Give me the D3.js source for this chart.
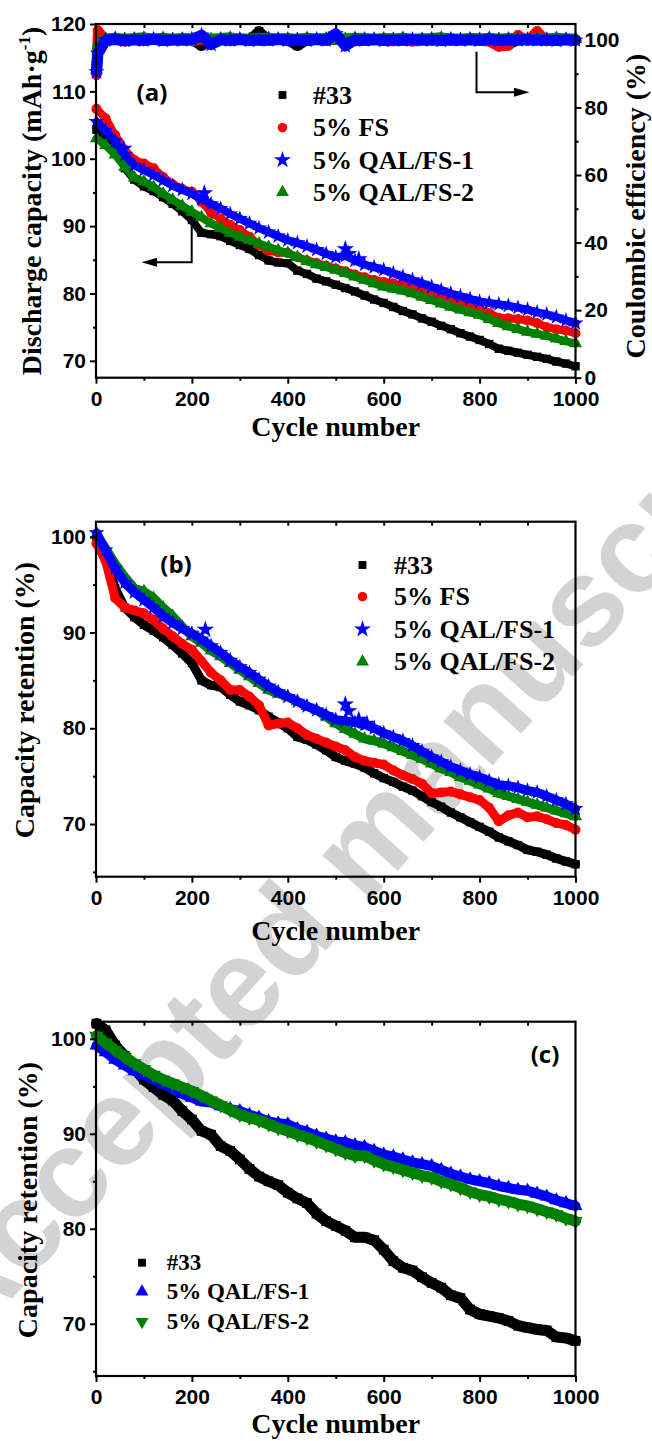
<!DOCTYPE html>
<html>
<head>
<meta charset="utf-8">
<script src="https://cdn.jsdelivr.net/npm/d3@7"></script>
<style>
  html, body { margin: 0; padding: 0; background: #fff; }
  svg { display: block; }
</style>
</head>
<body>
<svg id="fig" width="652" height="1441"></svg>
<script>
// ---------- data ----------
const cycles = [1,20,40,60,80,100,120,140,160,180,
  200,220,240,260,280,300,320,340,360,380,
  400,420,440,460,480,500,520,540,560,580,
  600,620,640,660,680,700,720,740,760,780,
  800,820,840,860,880,900,920,940,960,980,
  1000];
const ceCycles = [1,4,20,40,60,80,100,120,140,160,
  180,200,220,240,260,280,300,320,340,360,
  380,400,420,440,460,480,500,520,540,560,
  580,600,620,640,660,680,700,720,740,760,
  780,800,820,840,860,880,900,920,940,960,
  980,1000];

const seriesNames = ["#33", "5% FS", "5% QAL/FS-1", "5% QAL/FS-2"];

// (a) discharge capacity, mAh/g
const capA_33 = [104.3,103.0,101.8,98.6,96.9,95.9,95.2,94.3,93.3,92.2,
  90.9,89.0,88.8,88.5,87.8,87.2,86.6,85.7,84.9,84.6,
  84.5,83.4,82.9,82.2,81.8,81.3,80.8,80.3,79.7,79.1,
  78.6,78.0,77.4,76.9,76.3,75.8,75.2,74.7,74.1,73.6,
  73.1,72.5,71.8,71.5,71.2,70.9,70.6,70.3,69.9,69.6,
  69.2];
const capA_FS = [107.4,106.0,103.5,101.3,99.8,99.3,98.6,97.3,96.2,95.5,
  95.1,93.6,92.0,91.1,90.2,89.4,88.4,87.2,86.3,86.1,
  86.0,85.4,84.9,84.5,84.1,83.7,83.3,82.8,82.4,82.0,
  81.7,81.5,81.2,80.8,80.4,80.0,79.5,79.0,78.6,78.1,
  77.6,77.1,76.4,76.3,76.2,76.0,75.6,75.0,74.7,74.5,
  74.1];
const capA_Q1 = [105.5,104.2,102.6,100.6,99.0,98.3,97.6,96.8,96.0,95.4,
  94.8,94.0,93.3,92.6,91.8,91.1,90.4,89.7,89.1,88.5,
  87.9,87.5,87.0,86.5,85.9,85.4,85.6,84.9,84.3,83.9,
  83.5,83.0,82.5,82.0,81.5,81.0,80.5,80.0,79.6,79.2,
  78.8,78.6,78.4,78.2,77.9,77.6,77.2,76.9,76.5,76.0,
  75.6];
const capA_Q2 = [103.0,102.0,100.6,98.8,97.2,96.6,95.8,94.8,93.9,93.0,
  92.1,91.3,90.4,89.7,89.0,88.4,87.9,87.4,86.9,86.4,
  86.0,85.4,84.8,84.3,83.9,83.5,83.0,82.5,82.0,81.5,
  81.0,80.7,80.4,80.0,79.5,79.0,78.5,78.0,77.6,77.2,
  76.8,76.2,75.6,75.1,74.7,74.3,74.0,73.7,73.3,72.9,
  72.6];
const capA_Q1_spikeCycles = [58, 226, 520, 527, 548];
const capA_Q1_spikeValues = [101.5, 94.9, 86.6, 85.9, 85.1];

// (a) coulombic efficiency, %
const ceA_33 = [90.8,97.5,99.9,100.0,99.8,100.1,99.9,100.0,99.8,99.9,
  100.1,100.0,98.2,99.9,100.0,99.8,100.1,99.9,102.6,99.8,
  100.0,99.9,98.2,99.9,100.0,99.8,100.1,99.9,100.0,99.8,
  99.9,100.0,100.1,99.8,99.9,100.0,99.9,100.1,99.8,100.0,
  99.9,100.0,99.8,100.1,98.6,99.9,100.0,99.9,100.1,99.8,
  100.0,99.9];
const ceA_FS = [89.6,102.8,99.7,100.3,99.5,100.0,99.6,100.2,99.7,99.9,
  100.3,99.6,100.1,99.7,100.2,99.6,100.0,100.3,99.7,99.8,
  100.1,99.6,100.2,99.8,100.0,99.7,100.3,99.9,99.6,99.8,
  100.1,99.7,99.6,99.9,99.5,100.0,99.8,100.1,99.7,99.9,
  100.0,99.8,99.5,98.0,98.3,101.4,99.7,102.6,99.6,100.2,
  99.9,99.8];
const ceA_Q1 = [90.5,96.0,99.9,100.1,99.8,100.0,99.9,100.2,99.8,100.0,
  99.9,100.1,101.4,98.6,100.0,99.9,100.1,99.8,100.0,99.9,
  100.1,99.9,100.0,99.8,100.1,99.9,101.8,98.2,100.0,99.9,
  100.1,99.8,100.0,99.9,100.1,99.9,100.0,99.8,100.1,99.9,
  100.0,99.9,100.1,99.8,100.0,99.9,100.1,99.9,100.0,99.8,
  100.0,99.9];
const ceA_Q2 = [91.0,98.0,100.3,100.5,100.2,100.4,100.6,100.3,100.5,100.2,
  100.4,100.3,100.5,100.2,100.4,100.6,100.3,100.2,100.4,100.5,
  100.3,100.4,100.2,100.5,100.3,100.4,100.2,100.3,100.5,100.4,
  100.2,100.4,100.3,100.5,100.2,100.3,100.4,100.6,100.3,100.2,
  100.4,100.3,100.5,100.2,100.4,100.3,100.2,100.4,100.3,100.5,
  100.3,100.2];

// (b) capacity retention, %
const retB_33 = [100.0,97.8,94.6,92.6,91.6,90.8,90.2,89.5,88.7,87.8,
  86.8,85.0,84.5,84.3,83.5,82.8,82.4,81.9,81.2,80.6,
  80.0,79.1,78.8,78.3,77.7,77.0,76.6,76.3,75.9,75.3,
  74.8,74.4,73.9,73.5,72.9,72.3,71.8,71.2,70.7,70.2,
  69.7,69.2,68.6,68.2,67.8,67.3,67.1,66.8,66.4,66.1,
  65.8];
const retB_FS = [99.3,97.5,93.6,92.6,92.3,92.0,91.3,90.4,89.6,88.8,
  88.2,87.0,85.8,85.0,84.0,84.0,83.3,82.4,80.3,80.5,
  80.6,80.0,79.3,78.9,78.5,78.1,77.7,77.0,76.6,76.4,
  76.2,75.6,75.1,74.7,74.2,73.2,73.3,73.4,73.1,72.8,
  72.5,71.7,70.3,70.9,71.2,70.7,70.8,70.5,70.1,69.9,
  69.4];
const retB_Q1 = [100.4,98.6,96.7,95.2,94.2,93.4,92.6,91.7,91.0,90.4,
  89.9,89.3,88.6,87.9,87.1,86.4,85.8,85.1,84.4,83.8,
  83.3,82.8,82.3,81.9,81.4,80.9,80.8,80.6,80.4,80.0,
  79.5,79.1,78.7,78.2,77.6,77.0,76.5,76.0,75.6,75.2,
  74.9,74.5,74.1,74.0,73.8,73.5,73.3,72.9,72.5,72.1,
  71.6];
const retB_Q2 = [100.2,98.8,97.2,95.8,94.6,94.3,93.6,92.6,91.7,90.6,
  89.6,88.9,88.1,87.5,86.8,86.1,85.4,84.7,84.0,83.6,
  83.3,82.8,82.3,81.9,81.2,80.5,79.9,79.4,78.9,78.7,
  78.4,78.0,77.6,77.2,76.8,76.3,75.8,75.4,74.9,74.5,
  74.1,73.7,73.2,72.9,72.6,72.3,72.0,71.7,71.4,71.1,
  70.8];
const retB_Q1_spikeCycles = [228, 520, 527, 548, 565];
const retB_Q1_spikeValues = [90.3, 82.5, 81.8, 80.9, 80.5];

// (c) capacity retention, %
const retC_33 = [101.6,100.9,99.3,98.2,96.9,95.7,94.9,94.1,93.5,92.4,
  91.5,90.3,89.9,88.7,88.2,87.3,86.3,85.5,85.0,84.6,
  83.8,83.2,82.7,81.6,80.8,80.3,79.8,79.1,79.1,78.8,
  77.8,76.6,75.9,75.6,74.9,74.3,73.8,73.0,72.7,71.5,
  71.0,70.8,70.6,70.3,69.8,69.6,69.4,69.3,68.6,68.5,
  68.2];
const retC_Q1 = [99.3,98.6,97.8,97.2,96.6,96.2,95.7,95.2,94.8,94.2,
  93.8,93.4,93.3,92.9,92.6,92.4,92.0,91.7,91.3,91.1,
  91.0,90.5,90.2,89.8,89.5,89.2,89.1,88.8,88.6,88.2,
  87.8,87.6,87.3,87.0,86.8,86.6,86.2,85.8,85.5,85.2,
  85.0,84.8,84.5,84.3,84.1,84.0,83.7,83.4,83.0,82.7,
  82.4];
const retC_Q2 = [100.3,99.6,98.8,98.1,97.4,96.8,96.2,95.7,95.3,94.9,
  94.5,94.0,93.5,93.0,92.5,92.0,91.7,91.4,91.0,90.6,
  90.3,89.9,89.6,89.2,88.8,88.4,88.0,87.7,87.7,87.2,
  86.8,86.5,86.2,85.9,85.6,85.4,85.0,84.7,84.3,83.9,
  83.6,83.4,83.1,82.9,82.6,82.4,82.1,81.8,81.5,81.1,
  80.8];

// axis ticks
const xMajor = [0, 200, 400, 600, 800, 1000];
const xMinor = [100, 300, 500, 700, 900];
const xTop = [100, 200, 300, 400, 500, 600, 700, 800, 900];
const yMajorA = [70, 80, 90, 100, 110, 120];
const yMinorA = [75, 85, 95, 105, 115];
const yMajorCE = [0, 20, 40, 60, 80, 100];
const yMinorCE = [10, 30, 50, 70, 90];
const yMajorRet = [70, 80, 90, 100];
const yMinorRet = [65, 75, 85, 95];

// ---------- drawing ----------
const svg = d3.select("#fig");
const X0 = 96, X1 = 575.5;
const SANS = "'Liberation Sans', Arial, sans-serif";
const SERIF = "'Liberation Serif', 'Times New Roman', serif";
const LABEL = "'Open Sans', 'Noto Sans', sans-serif";
const C = { black: "#000000", red: "#ff0000", blue: "#0000ff", green: "#008000" };

svg.append("rect").attr("width", 652).attr("height", 1441).attr("fill", "#fff");

// watermark behind everything
svg.append("text")
  .attr("transform", "translate(-34,1350) rotate(-48)")
  .attr("font-family", SANS).attr("font-weight", "bold")
  .attr("font-size", 125).attr("fill", "#d3d3d3")
  .text("Accepted manuscript");

function drawSeries(g, x, y, cyc, vals, st) {
  const pts = cyc.map((c, i) => [c, vals[i]]);
  if (st.band) {
    g.append("path").datum(pts)
      .attr("d", d3.line().x(d => x(d[0])).y(d => y(d[1])))
      .attr("fill", "none").attr("stroke", st.color)
      .attr("stroke-width", st.band)
      .attr("stroke-linejoin", "round").attr("stroke-linecap", "round");
  }
  g.append("g").selectAll("path").data(pts).join("path")
    .attr("d", d3.symbol(st.symbol, st.size))
    .attr("transform", d => `translate(${x(d[0])},${y(d[1])})${st.flip ? " rotate(180)" : ""}`)
    .attr("fill", st.color);
}

function styleAxis(sel, fontSize) {
  sel.select(".domain").remove();
  sel.selectAll(".tick line").attr("stroke", "#000").attr("stroke-width", 2);
  sel.selectAll(".tick text")
    .attr("font-family", SANS).attr("font-weight", "bold")
    .attr("font-size", fontSize || 21).attr("fill", "#000");
}

function drawFrame(g, x, y, top, bottom, yMajor, yMinor) {
  const b = g.append("g").attr("transform", `translate(0,${bottom})`)
    .call(d3.axisBottom(x).tickValues(xMajor).tickSize(6).tickPadding(7).tickFormat(d3.format("d")));
  styleAxis(b);
  styleAxis(g.append("g").attr("transform", `translate(0,${bottom})`)
    .call(d3.axisBottom(x).tickValues(xMinor).tickSize(3).tickFormat("")));
  styleAxis(g.append("g").attr("transform", `translate(0,${top})`)
    .call(d3.axisBottom(x).tickValues(xTop).tickSize(4).tickFormat("")));
  styleAxis(g.append("g").attr("transform", `translate(${X0},0)`)
    .call(d3.axisLeft(y).tickValues(yMajor).tickSize(6).tickPadding(4).tickFormat(d3.format("d"))));
  styleAxis(g.append("g").attr("transform", `translate(${X0},0)`)
    .call(d3.axisLeft(y).tickValues(yMinor).tickSize(3).tickFormat("")));
  g.append("rect").attr("x", X0).attr("y", top)
    .attr("width", X1 - X0).attr("height", bottom - top)
    .attr("fill", "none").attr("stroke", "#000").attr("stroke-width", 2.2);
}

function xTitle(g, yPos) {
  g.append("text").attr("x", (X0 + X1) / 2).attr("y", yPos)
    .attr("text-anchor", "middle").attr("font-family", SERIF)
    .attr("font-weight", "bold").attr("font-size", 28).text("Cycle number");
}

function yTitle(g, xPos, yPos, text) {
  return g.append("text")
    .attr("transform", `translate(${xPos},${yPos}) rotate(-90)`)
    .attr("text-anchor", "middle").attr("font-family", SERIF)
    .attr("font-weight", "bold").attr("font-size", 28).text(text);
}

function panelLabel(g, xPos, yPos, text) {
  g.append("text").attr("x", xPos).attr("y", yPos)
    .attr("text-anchor", "middle").attr("font-family", LABEL)
    .attr("font-weight", "bold").attr("font-size", 24).text(text);
}

function legend(g, xm, xt, rows, entries, fontSize) {
  entries.forEach((e, i) => {
    g.append("path")
      .attr("d", d3.symbol(e.symbol, e.size))
      .attr("transform", `translate(${xm},${rows[i]})${e.flip ? " rotate(180)" : ""}`)
      .attr("fill", e.color);
    g.append("text").attr("x", xt).attr("y", rows[i] + fontSize * 0.33)
      .attr("font-family", SERIF).attr("font-weight", "bold")
      .attr("font-size", fontSize).text(e.name);
  });
}

const stSquare = { symbol: d3.symbolSquare, size: 70 };
const stCircle = { symbol: d3.symbolCircle, size: 80 };
const stStar = { symbol: d3.symbolStar, size: 80 };
const stTri = { symbol: d3.symbolTriangle, size: 75 };

// ===== panel (a) =====
{
  const top = 24, bottom = 377.7;
  const g = svg.append("g");
  const x = d3.scaleLinear().domain([0, 1000]).range([X0, X1]);
  const y = d3.scaleLinear().domain([67.5, 120]).range([bottom, top]);
  const yR = d3.scaleLinear().domain([0, 104.7]).range([bottom, top]);
  const data = g.append("g");

  // coulombic efficiency (right axis)
  drawSeries(data, x, yR, ceCycles, ceA_33, { ...stSquare, color: C.black, band: 10 });
  drawSeries(data, x, yR, ceCycles, ceA_FS, { ...stCircle, color: C.red, band: 10 });
  drawSeries(data, x, yR, ceCycles, ceA_Q2, { ...stTri, color: C.green, band: 11 });
  drawSeries(data, x, yR, ceCycles, ceA_Q1, { ...stStar, color: C.blue, band: 11 });

  // discharge capacity (left axis)
  drawSeries(data, x, y, cycles, capA_33, { ...stSquare, color: C.black, band: 8 });
  drawSeries(data, x, y, cycles, capA_FS, { ...stCircle, color: C.red, band: 8 });
  drawSeries(data, x, y, cycles, capA_Q2, { ...stTri, color: C.green, band: 8 });
  drawSeries(data, x, y, cycles, capA_Q1, { ...stStar, color: C.blue, band: 8 });
  drawSeries(data, x, y, capA_Q1_spikeCycles, capA_Q1_spikeValues, { ...stStar, size: 95, color: C.blue });

  drawFrame(g, x, y, top, bottom, yMajorA, yMinorA);
  const r = g.append("g").attr("transform", `translate(${X1},0)`)
    .call(d3.axisRight(yR).tickValues(yMajorCE).tickSize(6).tickPadding(3).tickFormat(d3.format("d")));
  styleAxis(r);
  styleAxis(g.append("g").attr("transform", `translate(${X1},0)`)
    .call(d3.axisRight(yR).tickValues(yMinorCE).tickSize(3).tickFormat("")));

  xTitle(g, 436);
  const t = yTitle(g, 41, 201, null);
  t.append("tspan").text("Discharge capacity (mAh\u00b7g");
  t.append("tspan").attr("font-size", 17).attr("dy", -11).text("-1");
  t.append("tspan").attr("dy", 11).text(")");
  yTitle(g, 645, 206, "Coulombic efficiency (%)");

  panelLabel(g, 152, 101, "(a)");
  legend(g, 282.5, 313, [95, 127.7, 160, 192.3], [
    { ...stSquare, size: 62, color: C.black, name: seriesNames[0] },
    { ...stCircle, size: 70, color: C.red, name: seriesNames[1] },
    { ...stStar, size: 90, color: C.blue, name: seriesNames[2] },
    { ...stTri, size: 72, color: C.green, name: seriesNames[3] }
  ], 26);

  // direction arrows
  g.append("path").attr("d", "M191.7,220V262.3H154")
    .attr("fill", "none").attr("stroke", "#000").attr("stroke-width", 2);
  g.append("path").attr("d", "M141.5,262.3L157,257.8L157,266.8Z").attr("fill", "#000");
  g.append("path").attr("d", "M476.5,51.7V92.3H516")
    .attr("fill", "none").attr("stroke", "#000").attr("stroke-width", 2);
  g.append("path").attr("d", "M529.5,92.3L514,87.8L514,96.8Z").attr("fill", "#000");
}

// ===== panel (b) =====
{
  const top = 521.7, bottom = 876.7;
  const g = svg.append("g");
  const x = d3.scaleLinear().domain([0, 1000]).range([X0, X1]);
  const y = d3.scaleLinear().domain([64.5, 101.57]).range([bottom, top]);
  const data = g.append("g");
  drawSeries(data, x, y, cycles, retB_33, { ...stSquare, color: C.black, band: 9 });
  drawSeries(data, x, y, cycles, retB_FS, { ...stCircle, color: C.red, band: 9 });
  drawSeries(data, x, y, cycles, retB_Q2, { ...stTri, color: C.green, band: 9 });
  drawSeries(data, x, y, cycles, retB_Q1, { ...stStar, color: C.blue, band: 9 });
  drawSeries(data, x, y, retB_Q1_spikeCycles, retB_Q1_spikeValues, { ...stStar, size: 95, color: C.blue });

  drawFrame(g, x, y, top, bottom, yMajorRet, yMinorRet);
  xTitle(g, 940);
  yTitle(g, 34, 700, "Capacity retention (%)");
  panelLabel(g, 176, 573, "(b)");
  legend(g, 362.5, 394, [565, 596.7, 629.3, 661.7], [
    { ...stSquare, size: 62, color: C.black, name: seriesNames[0] },
    { ...stCircle, size: 70, color: C.red, name: seriesNames[1] },
    { ...stStar, size: 90, color: C.blue, name: seriesNames[2] },
    { ...stTri, size: 72, color: C.green, name: seriesNames[3] }
  ], 26);
}

// ===== panel (c) =====
{
  const top = 1021.7, bottom = 1376;
  const g = svg.append("g");
  const x = d3.scaleLinear().domain([0, 1000]).range([X0, X1]);
  const y = d3.scaleLinear().domain([64.5, 101.8]).range([bottom, top]);
  const data = g.append("g");
  drawSeries(data, x, y, cycles, retC_33, { ...stSquare, size: 95, color: C.black, band: 11 });
  drawSeries(data, x, y, cycles, retC_Q1, { ...stTri, size: 85, color: C.blue, band: 10 });
  drawSeries(data, x, y, cycles, retC_Q2, { ...stTri, size: 90, flip: true, color: C.green, band: 11 });

  drawFrame(g, x, y, top, bottom, yMajorRet, yMinorRet);
  xTitle(g, 1433);
  yTitle(g, 37, 1200, "Capacity retention (%)");
  panelLabel(g, 545, 1063, "(c)");
  legend(g, 142, 166.7, [1262.7, 1291.7, 1321.7], [
    { ...stSquare, size: 62, color: C.black, name: seriesNames[0] },
    { ...stTri, size: 72, color: C.blue, name: seriesNames[2] },
    { ...stTri, size: 72, flip: true, color: C.green, name: seriesNames[3] }
  ], 23);
}
</script>
</body>
</html>
